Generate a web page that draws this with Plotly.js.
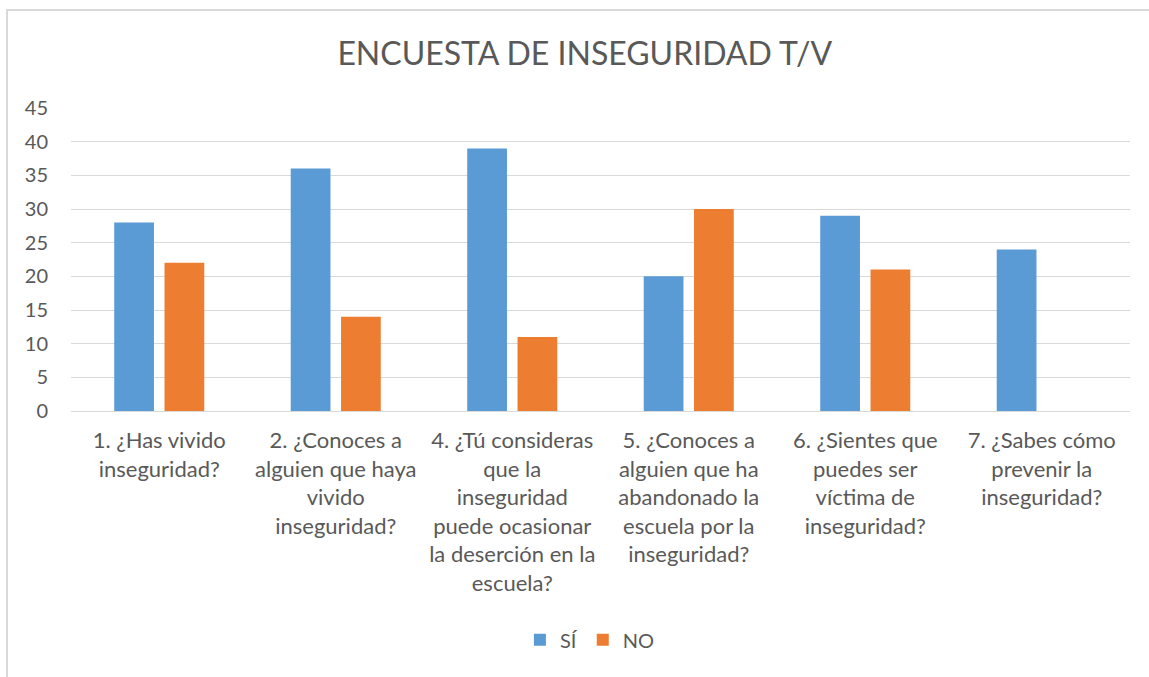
<!DOCTYPE html>
<html>
<head>
<meta charset="utf-8">
<script src="https://cdn.plot.ly/plotly-3.0.1.min.js"></script>
<style>
  html, body { margin: 0; padding: 0; background: #fff; }
  #chart { width: 1149px; height: 677px; }
  #frame { position: absolute; left: 6px; top: 9px; width: 1143px; height: 668px;
           border-left: 2px solid #d9d9d9; border-top: 2px solid #d9d9d9; pointer-events: none; box-sizing: border-box; }
</style>
</head>
<body>
<div id="chart"></div>
<div id="frame"></div>
<script>
const categories = [
  "1. ¿Has vivido<br>inseguridad?",
  "2. ¿Conoces a<br>alguien que haya<br>vivido<br>inseguridad?",
  "4. ¿Tú consideras<br>que la<br>inseguridad<br>puede ocasionar<br>la deserción en la<br>escuela?",
  "5. ¿Conoces a<br>alguien que ha<br>abandonado la<br>escuela por la<br>inseguridad?",
  "6. ¿Sientes que<br>puedes ser<br>víctima de<br>inseguridad?",
  "7. ¿Sabes cómo<br>prevenir la<br>inseguridad?"
];
const siValues = [28, 36, 39, 20, 29, 24];
const noValues = [22, 14, 11, 30, 21, null];
const yTicks = [0, 5, 10, 15, 20, 25, 30, 35, 40, 45];

const FONT = "Lato, 'Open Sans', sans-serif";
const GREY = "#595959";

const traces = [
  { type: "bar", name: "SÍ", x: categories, y: siValues, marker: { color: "#5b9bd5" } },
  { type: "bar", name: "NO", x: categories, y: noValues, marker: { color: "#ed7d31" } }
];

const layout = {
  width: 1149, height: 677,
  paper_bgcolor: "rgba(0,0,0,0)", plot_bgcolor: "#fff",
  font: { family: FONT, color: GREY, size: 20 },
  title: { text: "ENCUESTA DE INSEGURIDAD T/V", font: { family: FONT, size: 32, color: GREY },
           x: 0.509, xanchor: "center", y: 0.92, yanchor: "middle" },
  margin: { l: 71, r: 19, t: 108, b: 266 },
  barmode: "group", bargap: 0.43, bargroupgap: 0.21,
  xaxis: { type: "category", showgrid: false, showline: false, zeroline: false, ticks: "",
           tickangle: 0, automargin: false, ticklabelstandoff: 14, tickfont: { size: 22, color: GREY } },
  yaxis: { range: [0, 45], tickvals: yTicks, showgrid: true, gridcolor: "#d9d9d9", gridwidth: 1,
           zeroline: true, zerolinecolor: "#d9d9d9", zerolinewidth: 1, showline: false, ticks: "",
           ticklabelstandoff: 22, automargin: false, tickfont: { size: 20, color: GREY } },
  showlegend: true,
  legend: { orientation: "h", x: 0.49, xanchor: "center", y: -0.755, yanchor: "middle",
            font: { size: 20, color: GREY }, itemwidth: 30, traceorder: "normal" }
};

Plotly.newPlot("chart", traces, layout, { displayModeBar: false, staticPlot: true });
</script>
</body>
</html>
